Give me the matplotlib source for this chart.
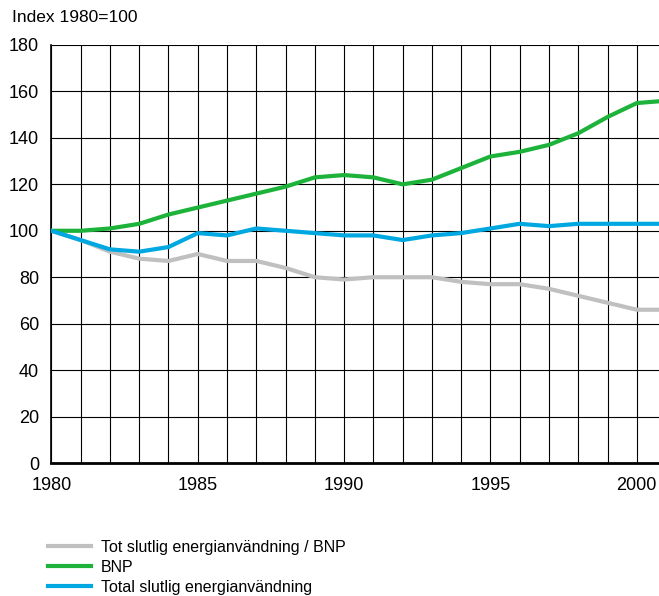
import matplotlib
matplotlib.use("Agg")
import matplotlib.pyplot as plt
from matplotlib.ticker import MultipleLocator

plt.rcParams['font.family'] = ['Liberation Sans', 'DejaVu Sans']

years = list(range(1980, 2002))
intensity = [100, 96, 91, 88, 87, 90, 87, 87, 84, 80, 79, 80, 80, 80, 78, 77, 77, 75, 72, 69, 66, 66]
bnp = [100, 100, 101, 103, 107, 110, 113, 116, 119, 123, 124, 123, 120, 122, 127, 132, 134, 137, 142, 149, 155, 156]
energy = [100, 96, 92, 91, 93, 99, 98, 101, 100, 99, 98, 98, 96, 98, 99, 101, 103, 102, 103, 103, 103, 103]

labels = ["Tot slutlig energianvändning / BNP", "BNP", "Total slutlig energianvändning"]
colors = ["#c0c0c0", "#1db33a", "#00a8e1"]

fig = plt.figure(figsize=(6.59, 5.96), dpi=100)
ax = fig.add_axes([51.4 / 659, 1 - 463 / 596, 1 - 51.4 / 659, (463 - 45) / 596])

for vals, lab, c in zip([intensity, bnp, energy], labels, colors):
    ax.plot(years, vals, color=c, lw=3, label=lab, solid_joinstyle='round', zorder=3)

ax.set_xlim(1980, 1980 + (659 - 51.4) / 29.27)
ax.set_ylim(0, 180)
ax.xaxis.set_major_locator(MultipleLocator(5))
ax.xaxis.set_minor_locator(MultipleLocator(1))
ax.yaxis.set_major_locator(MultipleLocator(20))
ax.grid(True, which='both', axis='x', color='black', lw=0.8)
ax.grid(True, which='major', axis='y', color='black', lw=0.8)
ax.tick_params(which='both', length=0, labelsize=13, colors='black')
ax.tick_params(axis='x', pad=10)
ax.tick_params(axis='y', pad=9)
for s in ['top', 'right']:
    ax.spines[s].set_visible(False)
ax.spines['left'].set_linewidth(1.2)
ax.spines['bottom'].set_linewidth(2)
ax.set_axisbelow(True)

fig.text(12 / 659, 1 - 18 / 596, "Index 1980=100", fontsize=12.5, va='center', ha='left')

fig.legend(loc='upper left', bbox_to_anchor=(48 / 659, 1 - 540 / 596), frameon=False,
           fontsize=11.5, handlelength=2.7, handletextpad=0.6, labelspacing=0.3,
           borderaxespad=0, borderpad=0)

fig.savefig("out.png", dpi=100)
